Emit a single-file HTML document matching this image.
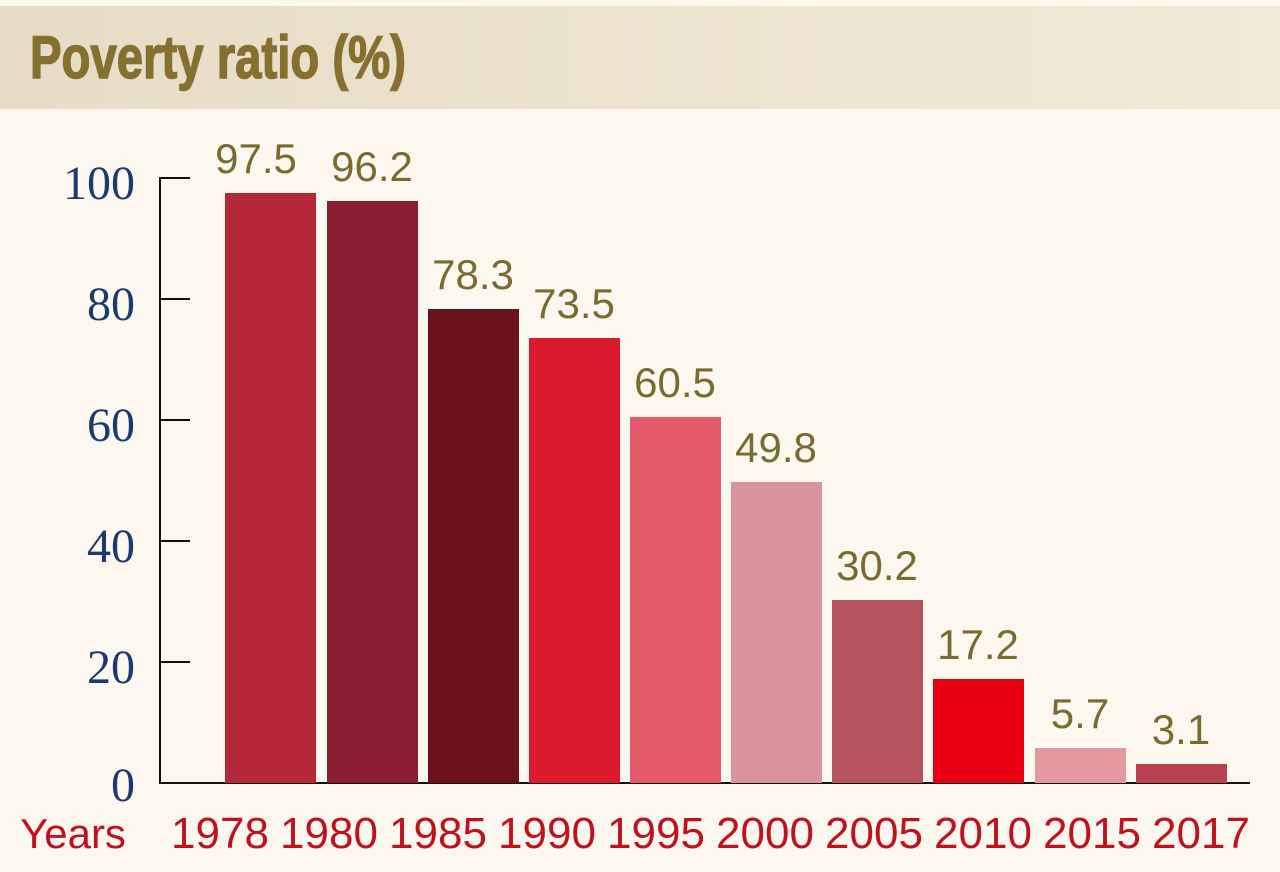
<!DOCTYPE html>
<html><head><meta charset="utf-8"><style>
html,body{margin:0;padding:0;background:#fcf8f0;}
svg{display:block}
</style></head><body>
<svg width="1280" height="872" viewBox="0 0 1280 872" xmlns="http://www.w3.org/2000/svg">
<defs><linearGradient id="g" x1="0" x2="1" y1="0" y2="0"><stop offset="0" stop-color="#e6dcc6"/><stop offset="1" stop-color="#f2e9d8"/></linearGradient></defs>
<rect width="1280" height="872" fill="#fcf8f0"/>
<rect x="0" y="6" width="1280" height="103" fill="url(#g)"/>
<text x="30" y="78" font-family="Liberation Sans Narrow, Liberation Sans, sans-serif" font-weight="bold" font-size="60" fill="#85702f" stroke="#85702f" stroke-width="1.5" textLength="376" lengthAdjust="spacingAndGlyphs">Poverty ratio (%)</text>
<g stroke="#111" stroke-width="2" fill="none">
<polyline points="190,178 160,178 160,783 1250,783"/>
<line x1="160" y1="299" x2="190" y2="299"/><line x1="160" y1="420" x2="190" y2="420"/><line x1="160" y1="541" x2="190" y2="541"/><line x1="160" y1="662" x2="190" y2="662"/>
</g>
<g font-family="Liberation Serif, serif" font-size="48" fill="#1c3a6e" text-anchor="end">
<text x="135" y="199">100</text><text x="135" y="320">80</text><text x="135" y="441">60</text><text x="135" y="562">40</text><text x="135" y="683">20</text><text x="135" y="801">0</text>
</g>
<g>
<rect x="225" y="193" width="91" height="590" fill="#b5283a"/>
<rect x="327" y="201" width="91" height="582" fill="#8a1f33"/>
<rect x="428" y="309" width="91" height="474" fill="#6a111c"/>
<rect x="529" y="338" width="91" height="445" fill="#dc1a2e"/>
<rect x="630" y="417" width="91" height="366" fill="#e55a6a"/>
<rect x="731" y="482" width="91" height="301" fill="#d8939c"/>
<rect x="832" y="600" width="91" height="183" fill="#b5545f"/>
<rect x="933" y="679" width="91" height="104" fill="#e60012"/>
<rect x="1035" y="748" width="91" height="35" fill="#e4989f"/>
<rect x="1136" y="764" width="91" height="19" fill="#b8414f"/>
</g>
<g font-family="Liberation Sans, sans-serif" font-size="42" fill="#7a6a30" text-anchor="middle">
<text x="256" y="173">97.5</text><text x="372" y="181">96.2</text><text x="473" y="289">78.3</text><text x="574" y="318">73.5</text><text x="675" y="397">60.5</text><text x="776" y="462">49.8</text><text x="877" y="580">30.2</text><text x="978" y="659">17.2</text><text x="1080" y="728">5.7</text><text x="1181" y="744">3.1</text>
</g>
<g font-family="Liberation Sans, sans-serif" font-size="44" fill="#c0111f" text-anchor="middle">
<text x="73" y="848" font-size="42">Years</text>
<text x="220" y="848">1978</text><text x="329" y="848">1980</text><text x="438" y="848">1985</text><text x="547" y="848">1990</text><text x="656" y="848">1995</text><text x="765" y="848">2000</text><text x="874" y="848">2005</text><text x="983" y="848">2010</text><text x="1092" y="848">2015</text><text x="1201" y="848">2017</text>
</g>
</svg>
</body></html>
